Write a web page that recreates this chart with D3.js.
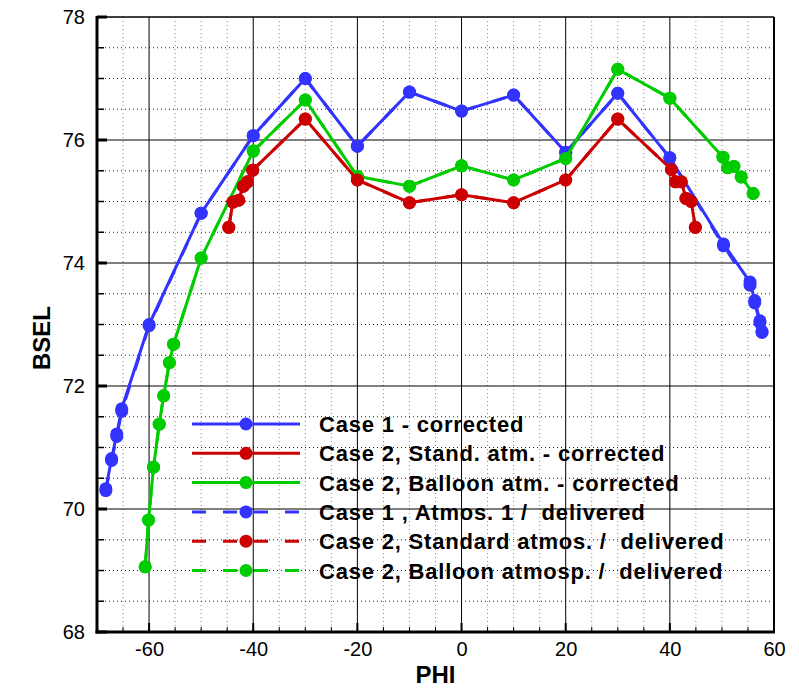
<!DOCTYPE html>
<html><head><meta charset="utf-8">
<script src="https://cdn.jsdelivr.net/npm/d3@7/dist/d3.min.js"></script>
<style>body{margin:0;background:#fff}svg{display:block}</style>
</head><body><svg id="c" width="799" height="689"></svg>
<script>
// ---- data ----
const phiCase1 = [-68.3,-67.2,-66.2,-65.25,-60,-50,-40,-30,-20,-10,0,10,20,30,40,50.3,55.4,56.3,57.3,57.7];
const bselCase1Corr = [70.33,70.82,71.22,71.63,73.0,74.81,76.07,77.0,75.9,76.78,76.47,76.73,75.8,76.76,75.71,74.31,73.69,73.39,73.06,72.89];
const bselCase1Deliv = [70.3,70.79,71.18,71.59,72.98,74.81,76.07,77.0,75.9,76.78,76.47,76.73,75.8,76.76,75.71,74.28,73.64,73.35,73.03,72.87];

const phiCase2Std = [-44.7,-43.9,-42.8,-41.9,-41.1,-40.1,-30,-20,-10,0,10,20,30,40.3,41.1,42.2,43.1,44.1,44.9];
const bselCase2StdCorr = [74.58,74.99,75.02,75.25,75.32,75.51,76.34,75.35,74.98,75.11,74.98,75.35,76.34,75.52,75.32,75.32,75.05,75.0,74.58];
const bselCase2StdDeliv = [74.58,74.99,75.02,75.25,75.32,75.51,76.34,75.35,74.98,75.11,74.98,75.35,76.34,75.52,75.32,75.32,75.05,75.0,74.58];

const phiCase2Bal = [-60.75,-60.1,-59.15,-58.05,-57.2,-56.1,-55.3,-50,-40,-30,-20,-10,0,10,20,30,40,50.2,51.1,52.3,53.7,56.0];
const bselCase2BalCorr = [69.06,69.82,70.68,71.38,71.84,72.38,72.68,74.08,75.82,76.65,75.41,75.25,75.58,75.35,75.7,77.15,76.68,75.72,75.55,75.57,75.4,75.13];
const bselCase2BalDeliv = [69.06,69.82,70.68,71.38,71.84,72.38,72.68,74.08,75.82,76.65,75.41,75.25,75.58,75.35,75.7,77.15,76.68,75.72,75.55,75.57,75.4,75.13];

const legendLabels = ["Case 1 - corrected","Case 2, Stand. atm. - corrected","Case 2, Balloon atm. - corrected",
  "Case 1 , Atmos. 1 /  delivered","Case 2, Standard atmos. /  delivered","Case 2, Balloon atmosp. /  delivered"];
const xTicks = [-60,-40,-20,0,20,40,60];
const yTicks = [68,70,72,74,76,78];

// ---- layout ----
const L=97, R=774, T=17, B=632;
const FONT="Liberation Sans, Arial, sans-serif";
const svg = d3.select("#c");
const x = d3.scaleLinear().domain([-70,60]).range([L,R]);
const y = d3.scaleLinear().domain([68,78]).range([B,T]);
const BLUE="#3333ff", RED="#cc0000", GREEN="#00cc00";

const series = [
  {phi:phiCase1, v:bselCase1Deliv, c:BLUE, dash:true},
  {phi:phiCase2Std, v:bselCase2StdDeliv, c:RED, dash:true},
  {phi:phiCase2Bal, v:bselCase2BalDeliv, c:GREEN, dash:true},
  {phi:phiCase1, v:bselCase1Corr, c:BLUE, dash:false},
  {phi:phiCase2Bal, v:bselCase2BalCorr, c:GREEN, dash:false},
  {phi:phiCase2Std, v:bselCase2StdCorr, c:RED, dash:false},
];

// grid: minor dotted
const g = svg.append("g");
d3.range(-65,60,5).filter(v=>v%20!==0).forEach(v=>{
  g.append("line").attr("x1",x(v)).attr("x2",x(v)).attr("y1",T).attr("y2",B)
   .attr("stroke","#888").attr("stroke-width",1).attr("stroke-dasharray","1,3");
});
d3.range(68.5,78,0.5).filter(v=>Math.abs(v%2)>1e-6).forEach(v=>{
  g.append("line").attr("x1",L).attr("x2",R).attr("y1",y(v)).attr("y2",y(v))
   .attr("stroke","#222").attr("stroke-width",1).attr("stroke-dasharray","1,3");
});
// major solid
[-60,-40,-20,0,20,40].forEach(v=>{
  g.append("line").attr("x1",x(v)).attr("x2",x(v)).attr("y1",T).attr("y2",B).attr("stroke","#000").attr("stroke-width",1);
});
[70,72,74,76].forEach(v=>{
  g.append("line").attr("x1",L).attr("x2",R).attr("y1",y(v)).attr("y2",y(v)).attr("stroke","#000").attr("stroke-width",1);
});

// series
const line = d3.line().x(d=>x(d[0])).y(d=>y(d[1]));
series.forEach(s=>{
  const pts = s.phi.map((p,i)=>[p,s.v[i]]);
  const sg = svg.append("g");
  sg.append("path").attr("d",line(pts)).attr("fill","none").attr("stroke",s.c)
    .attr("stroke-width",3).attr("stroke-linejoin","round")
    .attr("stroke-dasharray", s.dash ? "14,17" : null);
  sg.selectAll("circle").data(pts).enter().append("circle")
    .attr("cx",d=>x(d[0])).attr("cy",d=>y(d[1])).attr("r",6.5).attr("fill",s.c);
});

// frame
svg.append("line").attr("x1",R).attr("x2",R).attr("y1",T).attr("y2",B).attr("stroke","#000").attr("stroke-width",2);
svg.append("line").attr("x1",L).attr("x2",R).attr("y1",T).attr("y2",T).attr("stroke","#000").attr("stroke-width",1.5);
svg.append("line").attr("x1",L).attr("x2",L).attr("y1",T-1).attr("y2",B+1.5).attr("stroke","#000").attr("stroke-width",3);
svg.append("line").attr("x1",L-1.5).attr("x2",R+1).attr("y1",B).attr("y2",B).attr("stroke","#000").attr("stroke-width",3);

// axes with d3 (labels), ticks drawn inward below
const fmt = d => String(d);
const yAx = d3.axisLeft(y).tickValues(yTicks).tickSize(0).tickPadding(12).tickFormat(fmt);
const ya = svg.append("g").attr("transform",`translate(${L},0)`).call(yAx);
ya.select(".domain").remove();
ya.selectAll("text").attr("font-family",FONT).attr("font-size",20).attr("fill","#000");
const xAx = d3.axisBottom(x).tickValues(xTicks).tickSize(0).tickPadding(10).tickFormat(fmt);
const xa = svg.append("g").attr("transform",`translate(0,${B})`).call(xAx);
xa.select(".domain").remove();
xa.selectAll("text").attr("font-family",FONT).attr("font-size",20).attr("fill","#000");

d3.range(68,78.01,0.5).forEach(v=>{
  const major = Math.abs(v%2)<1e-6;
  svg.append("line").attr("x1",L).attr("x2",L+(major?10:7)).attr("y1",y(v)).attr("y2",y(v))
    .attr("stroke","#000").attr("stroke-width",major?3:1.5);
});
d3.range(-65,60,5).forEach(v=>{
  const major = v%20===0;
  svg.append("line").attr("x1",x(v)).attr("x2",x(v)).attr("y1",B).attr("y2",B-(major?9:5))
    .attr("stroke","#000").attr("stroke-width",major?2:1);
});

// axis titles
svg.append("text").attr("x",x(-5)).attr("y",683).attr("text-anchor","middle")
  .attr("font-family",FONT).attr("font-weight","bold").attr("font-size",24).text("PHI");
svg.append("text").attr("transform",`translate(50,338) rotate(-90)`).attr("text-anchor","middle")
  .attr("font-family",FONT).attr("font-weight","bold").attr("font-size",24).text("BSEL");

// legend
const legItems = [
  {c:BLUE,dash:false},{c:RED,dash:false},{c:GREEN,dash:false},
  {c:BLUE,dash:true},{c:RED,dash:true},{c:GREEN,dash:true}];
legItems.forEach((it,i)=>{
  const yy = 424 + i*29.3;
  svg.append("line").attr("x1",192).attr("x2",300).attr("y1",yy).attr("y2",yy)
    .attr("stroke",it.c).attr("stroke-width",3).attr("stroke-dasharray",it.dash?"14,17":null);
  svg.append("circle").attr("cx",246).attr("cy",yy).attr("r",6.5).attr("fill",it.c);
  svg.append("text").attr("x",319).attr("y",yy+8).attr("font-family",FONT)
    .attr("font-weight","bold").attr("font-size",22).attr("letter-spacing","0.8px")
    .style("white-space","pre").attr("fill","#000").text(legendLabels[i]);
});
</script></body></html>
